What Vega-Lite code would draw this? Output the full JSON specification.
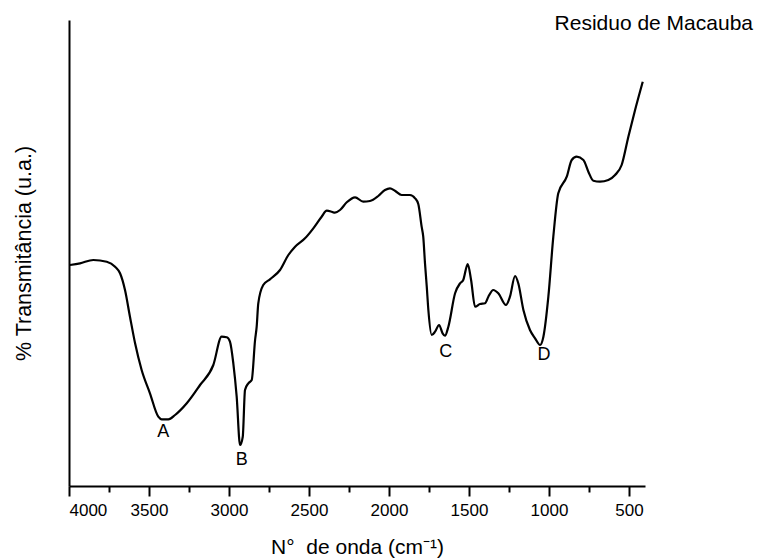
{
  "$schema": "https://vega.github.io/schema/vega-lite/v6.json",
  "width": 576,
  "height": 466,
  "autosize": "none",
  "padding": {"left": 69, "top": 20, "right": 115, "bottom": 74},
  "background": "white",
  "config": {"view": {"stroke": null}, "font": "Liberation Sans"},
  "title": {"text": "Residuo de Macauba", "anchor": "end", "frame": "group", "dx": 108, "dy": 31, "offset": 0, "baseline": "alphabetic", "fontSize": 21, "fontWeight": "normal", "font": "Liberation Sans", "color": "black"},
  "datasets": {
    "spec": [
      {"w": 3994, "t": 221}, {"w": 3931, "t": 222.7}, {"w": 3848, "t": 226}, {"w": 3764, "t": 224.3},
      {"w": 3712, "t": 219.3}, {"w": 3681, "t": 212.7}, {"w": 3650, "t": 196}, {"w": 3619, "t": 169.3},
      {"w": 3587, "t": 142.7}, {"w": 3546, "t": 116}, {"w": 3494, "t": 92.7}, {"w": 3442, "t": 69.3},
      {"w": 3421, "t": 66.7}, {"w": 3379, "t": 66.7}, {"w": 3337, "t": 71}, {"w": 3264, "t": 82.7},
      {"w": 3181, "t": 101}, {"w": 3098, "t": 121}, {"w": 3046, "t": 149.3}, {"w": 3014, "t": 148.7},
      {"w": 2994, "t": 144.3}, {"w": 2973, "t": 122.7}, {"w": 2952, "t": 89.3}, {"w": 2931, "t": 41},
      {"w": 2914, "t": 49.3}, {"w": 2900, "t": 96}, {"w": 2879, "t": 102.7}, {"w": 2858, "t": 106},
      {"w": 2837, "t": 146}, {"w": 2827, "t": 159.3}, {"w": 2817, "t": 182.7}, {"w": 2786, "t": 201},
      {"w": 2744, "t": 206.7}, {"w": 2681, "t": 216}, {"w": 2629, "t": 231}, {"w": 2587, "t": 239.3},
      {"w": 2525, "t": 247.7}, {"w": 2473, "t": 257.7}, {"w": 2421, "t": 269.3}, {"w": 2389, "t": 275.3},
      {"w": 2358, "t": 274.3}, {"w": 2338, "t": 273.3}, {"w": 2306, "t": 276}, {"w": 2264, "t": 283.7},
      {"w": 2212, "t": 288.7}, {"w": 2161, "t": 284.3}, {"w": 2119, "t": 285}, {"w": 2067, "t": 290},
      {"w": 2025, "t": 296}, {"w": 1994, "t": 297.7}, {"w": 1963, "t": 295.3}, {"w": 1921, "t": 291},
      {"w": 1869, "t": 291}, {"w": 1837, "t": 287.7}, {"w": 1817, "t": 282}, {"w": 1796, "t": 259.3},
      {"w": 1786, "t": 249.3}, {"w": 1775, "t": 222.7}, {"w": 1764, "t": 199.3}, {"w": 1754, "t": 176},
      {"w": 1733, "t": 151}, {"w": 1712, "t": 154.3}, {"w": 1687, "t": 161}, {"w": 1665, "t": 152.7},
      {"w": 1650, "t": 150.3}, {"w": 1629, "t": 159.3}, {"w": 1587, "t": 192.7}, {"w": 1556, "t": 202.7},
      {"w": 1536, "t": 206}, {"w": 1508, "t": 222}, {"w": 1487, "t": 206}, {"w": 1462, "t": 179.3},
      {"w": 1431, "t": 182}, {"w": 1400, "t": 182.7}, {"w": 1379, "t": 189.3}, {"w": 1348, "t": 196},
      {"w": 1317, "t": 192.7}, {"w": 1269, "t": 181}, {"w": 1244, "t": 189.3}, {"w": 1212, "t": 210},
      {"w": 1192, "t": 202.7}, {"w": 1160, "t": 176}, {"w": 1119, "t": 156}, {"w": 1087, "t": 147.7},
      {"w": 1056, "t": 141}, {"w": 1035, "t": 149.3}, {"w": 1004, "t": 189.3}, {"w": 973, "t": 249.3},
      {"w": 942, "t": 292.7}, {"w": 889, "t": 309.3}, {"w": 858, "t": 326}, {"w": 827, "t": 329.3},
      {"w": 785, "t": 326}, {"w": 754, "t": 314.3}, {"w": 723, "t": 305.3}, {"w": 681, "t": 304.3},
      {"w": 629, "t": 306}, {"w": 587, "t": 311}, {"w": 546, "t": 321}, {"w": 504, "t": 349.3},
      {"w": 462, "t": 376}, {"w": 414, "t": 404.3}
    ],
    "labels": [
      {"w": 3411, "t": 54.3, "lab": "A"},
      {"w": 2921, "t": 26, "lab": "B"},
      {"w": 1646, "t": 134.3, "lab": "C"},
      {"w": 1031, "t": 131, "lab": "D"}
    ]
  },
  "layer": [
    {
      "data": {"name": "spec"},
      "mark": {"type": "line", "color": "black", "strokeWidth": 2.2, "interpolate": "monotone"},
      "encoding": {
        "x": {"field": "w", "type": "quantitative",
          "scale": {"domain": [4000, 400], "nice": false, "zero": false},
          "axis": {"values": [4000, 3500, 3000, 2500, 2000, 1500, 1000, 500], "format": "d",
            "orient": "bottom", "grid": false, "domainColor": "black", "domainWidth": 2,
            "tickColor": "black", "tickWidth": 2, "tickSize": 10, "labelPadding": 6,
            "labelFontSize": 17, "labelColor": "black", "labelFont": "Liberation Sans",
            "title": "N°\u00a0\u00a0de onda (cm⁻¹)", "titleFontSize": 21, "titleFontWeight": "normal",
            "titleColor": "black", "titlePadding": 18, "titleFont": "Liberation Sans"}},
        "y": {"field": "t", "type": "quantitative",
          "scale": {"domain": [0, 466], "nice": false},
          "axis": {"ticks": false, "labels": false, "grid": false, "domainColor": "black", "domainWidth": 2,
            "title": "% Transmitância (u.a.)", "titleFontSize": 21.5, "titleFontWeight": "normal",
            "titleColor": "black", "titlePadding": 34, "titleFont": "Liberation Sans"}}
      }
    },
    {
      "data": {"name": "labels"},
      "mark": {"type": "text", "fontSize": 18, "color": "black", "baseline": "middle", "font": "Liberation Sans"},
      "encoding": {
        "x": {"field": "w", "type": "quantitative",
          "axis": {"values": [3750, 3250, 2750, 2250, 1750, 1250, 750], "orient": "bottom", "labels": false,
            "domain": false, "grid": false, "tickColor": "black", "tickWidth": 2, "tickSize": 6, "title": null}},
        "y": {"field": "t", "type": "quantitative"},
        "text": {"field": "lab"}
      }
    }
  ],
  "resolve": {"axis": {"x": "independent"}}
}
